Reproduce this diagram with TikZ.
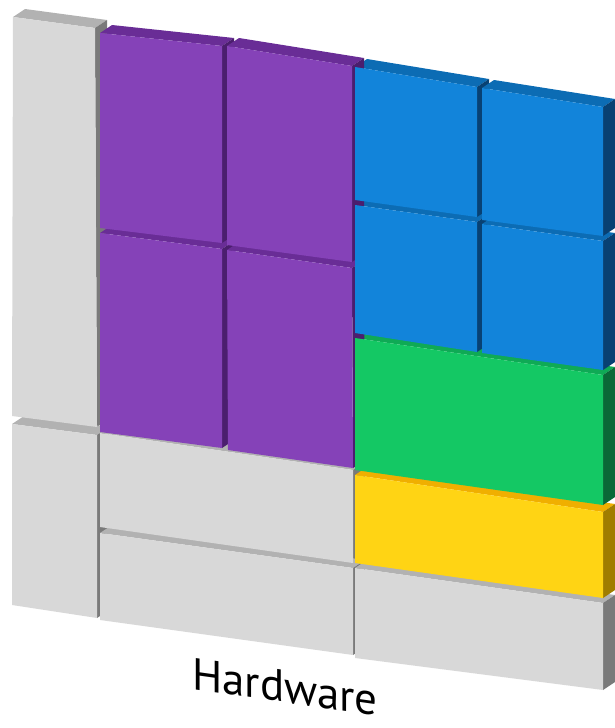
\documentclass[tikz,border=0pt]{standalone}
\usepackage{fontspec}
\setmainfont{PT Sans}
\definecolor{greyF}{HTML}{D8D8D8}
\definecolor{greyT}{HTML}{B2B2B2}
\definecolor{greyS}{HTML}{7A7A7A}
\definecolor{purpleF}{HTML}{8542B8}
\definecolor{purpleT}{HTML}{692D96}
\definecolor{purpleS}{HTML}{4B1E6E}
\definecolor{blueF}{HTML}{1284DA}
\definecolor{blueT}{HTML}{0C6CB4}
\definecolor{blueS}{HTML}{084173}
\definecolor{greenF}{HTML}{14C864}
\definecolor{greenT}{HTML}{0FAA55}
\definecolor{greenS}{HTML}{0A6937}
\definecolor{yellowF}{HTML}{FFD414}
\definecolor{yellowT}{HTML}{F0AF00}
\definecolor{yellowS}{HTML}{A07D00}
% front face corners (tl/tr/br/bl) and colour of each block
\newcommand{\blocklist}{%
{13,17}/{95,28}/{97,427}/{12,416}/grey,
{12,424}/{97,435}/{97,618}/{12,605}/grey,
{100,433}/{353,470}/{353,563}/{100,527}/grey,
{100,533}/{353,568}/{353,655}/{100,620}/grey,
{355,568}/{603,603}/{603,690}/{355,658}/grey,
{355,475}/{603,512}/{603,598}/{355,563}/yellow,
{355,338}/{603,375}/{603,505}/{355,470}/green,
{355,205}/{477,222}/{477,352}/{355,333}/blue,
{482,224}/{603,241}/{603,370}/{482,353}/blue,
{355,67}/{477,87}/{477,217}/{355,200}/blue,
{482,88}/{603,107}/{603,236}/{482,220}/blue,
{100,233}/{222,249}/{222,448}/{100,432}/purple,
{227,250}/{352,268}/{353,468}/{228,450}/purple,
{100,33}/{222,46}/{222,243}/{100,228}/purple,
{227,46}/{352,66}/{352,262}/{227,245}/purple}
\begin{document}
\begin{tikzpicture}[x=1pt,y=-1pt]
\useasboundingbox (0,0) rectangle (614,728);
% tops and sides first
\foreach \a/\b/\c/\d/\col in \blocklist
{
	\fill[fill=\col T] (\a) -- (\b) -- ([shift={(12,-8)}]\b) -- ([shift={(12,-8)}]\a) -- cycle;
	\fill[fill=\col S] (\b) -- ([shift={(12,-8)}]\b) -- ([shift={(12,-8)}]\c) -- (\c) -- cycle;
}
% then the fronts
\foreach \a/\b/\c/\d/\col in \blocklist
	\fill[fill=\col F] (\a) -- (\b) -- (\c) -- (\d) -- cycle;
\node[yslant=-0.14, inner sep=0, font=\fontsize{45}{45}\selectfont, text=black] (hw) at (285,687) {Hardware};
\end{tikzpicture}
\end{document}
